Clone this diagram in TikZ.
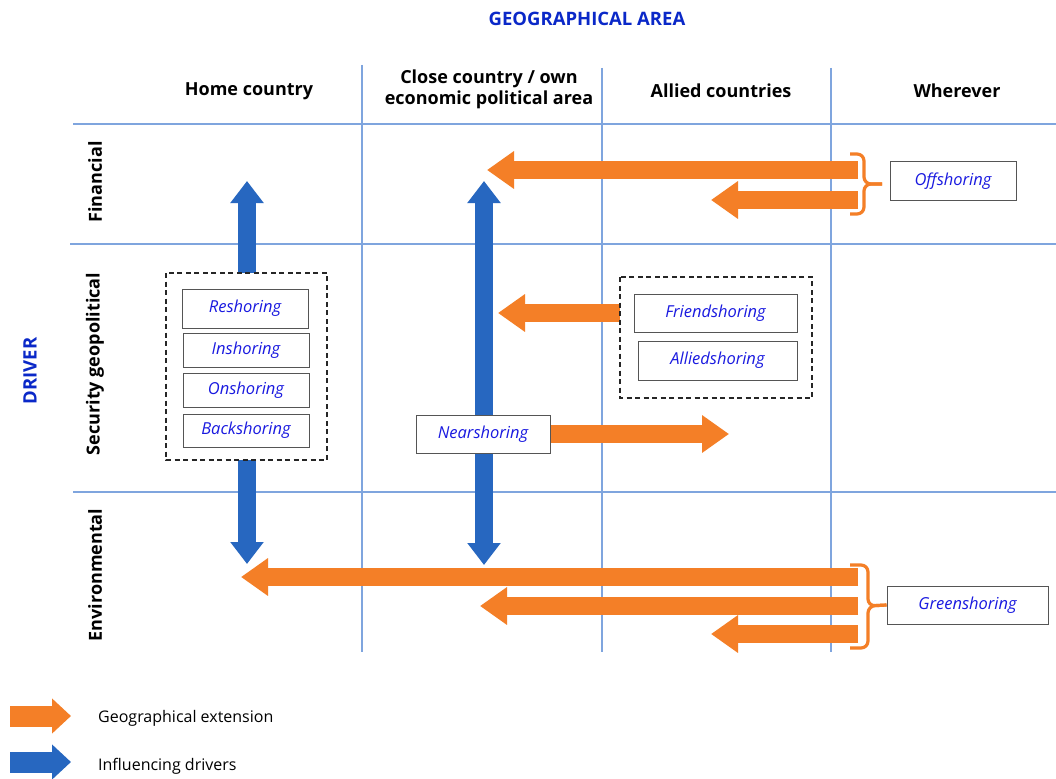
\documentclass[tikz,border=0pt]{standalone}
\usepackage{fontspec}
\setmainfont{Open Sans}
\usetikzlibrary{arrows.meta,backgrounds}
\definecolor{org}{HTML}{F47F27}
\definecolor{blu}{HTML}{2767C0}
\definecolor{gridc}{HTML}{7FA5DE}
\definecolor{lbl}{HTML}{1A1AE0}
\definecolor{ttl}{HTML}{0A28C8}
\definecolor{boxc}{HTML}{555555}
\begin{document}
\begin{tikzpicture}[x=1pt,y=-1pt,
  gridline/.style={draw=gridc,line width=1.2pt},
  colhead/.style={font=\fontsize{18}{21}\selectfont\bfseries,align=center,inner sep=0pt},
  rowhead/.style={font=\fontsize{18}{21}\selectfont\bfseries,rotate=90,inner sep=0pt},
  title/.style={font=\fontsize{18.5}{21}\selectfont\bfseries,text=ttl,inner sep=0pt},
  lab/.style={draw=boxc,line width=1pt,fill=white,font=\fontsize{16.5}{19}\selectfont\itshape,text=lbl,inner sep=0pt},
  dbox/.style={draw=black!85,line width=1.6pt,dash pattern=on 5pt off 3.5pt},
  oarrow/.style={draw=org,line width=18pt,-{Triangle[length=27pt,width=36pt]}},
  barrow/.style={draw=blu,line width=18pt,-{Triangle[length=22pt,width=32pt]}},
  bdarrow/.style={draw=blu,line width=18pt,{Triangle[length=22pt,width=32pt]}-{Triangle[length=22pt,width=32pt]}},
  obrace/.style={draw=org,line width=3.2pt,rounded corners=7pt},
  legtext/.style={font=\fontsize{16}{19}\selectfont,anchor=west,inner sep=0pt}
]
\useasboundingbox (0,0) rectangle (1056,778);

% titles
\node[title] (geo) at (587,19) {GEOGRAPHICAL AREA};
\node[title,rotate=90] (drv) at (30,371) {DRIVER};

% column heads
\node[colhead] (h1) at (249,91) {Home country};
\node[colhead] (h2) at (489,89) {Close country / own\\economic political area};
\node[colhead] (h3) at (721,91) {Allied countries};
\node[colhead] (h4) at (957,91) {Wherever};

% row heads
\node[rowhead] (r1) at (95,182) {Financial};
\node[rowhead] (r2) at (95,364) {Security geopolitical};
\node[rowhead] (r3) at (95,575) {Environmental};

% dashed groups
\draw[dbox] (166,273) rectangle (327,460);
\coordinate (homeTop) at (247,273);
\coordinate (homeBot) at (247,460);
\draw[dbox] (620,277) rectangle (812,398);
\coordinate (allyL) at (620,313);

% home labels
\node[lab,minimum width=126pt,minimum height=39pt] (resh) at (245,308.5) {Reshoring};
\node[lab,minimum width=126pt,minimum height=34pt] (insh) at (246,350) {Inshoring};
\node[lab,minimum width=126pt,minimum height=34pt] (onsh) at (246,390) {Onshoring};
\node[lab,minimum width=126pt,minimum height=33pt] (back) at (246,430.5) {Backshoring};

% allied labels
\node[lab,minimum width=163pt,minimum height=38pt] (friend) at (715.5,313) {Friendshoring};
\node[lab,minimum width=159pt,minimum height=39pt] (allied) at (717.5,360.5) {Alliedshoring};

% nearshoring
\node[lab,minimum width=134pt,minimum height=38pt] (near) at (483,434) {Nearshoring};

% offshoring / greenshoring
\node[lab,minimum width=126pt,minimum height=38pt] (off) at (953,181) {Offshoring};
\node[lab,minimum width=161pt,minimum height=38pt] (green) at (967.5,605) {Greenshoring};

% coordinates
\coordinate (homeUp) at (247,181);
\coordinate (homeDown) at (247,564);
\coordinate (closeUp) at (484,181);
\coordinate (closeDown) at (484,565);
\coordinate (f1s) at (858,170);
\coordinate (f1e) at (487,170);
\coordinate (f2s) at (858,200);
\coordinate (f2e) at (711,200);
\coordinate (sece) at (498,313);
\coordinate (neare) at (729,434);
\coordinate (e1s) at (858,577);
\coordinate (e1e) at (241,577);
\coordinate (e2s) at (858,606);
\coordinate (e2e) at (480,606);
\coordinate (e3s) at (858,634);
\coordinate (e3e) at (711,634);

\begin{pgfonlayer}{background}
\fill[white] (0,0) rectangle (1056,778);
% grid
\draw[gridline] (362,65) -- (362,652);
\draw[gridline] (602,68) -- (602,652);
\draw[gridline] (831,68) -- (831,652);
\draw[gridline,line width=2pt] (73,124) -- (1056,124);
\draw[gridline] (70,244) -- (1056,244);
\draw[gridline] (73,492) -- (1056,492);
% blue arrows
\draw[barrow] (homeTop) -- (homeUp);
\draw[barrow] (homeBot) -- (homeDown);
\draw[bdarrow] (closeDown) -- (closeUp);
% orange arrows
\draw[oarrow] (f1s) -- (f1e);
\draw[oarrow] (f2s) -- (f2e);
\draw[oarrow] (allyL) -- (sece);
\draw[oarrow] (near.east) -- (neare);
\draw[oarrow] (e1s) -- (e1e);
\draw[oarrow] (e2s) -- (e2e);
\draw[oarrow] (e3s) -- (e3e);
\end{pgfonlayer}

% braces
\coordinate (b1tip) at (882,184);
\draw[obrace] (850,154) -- (864,154) -- (864,184) -- (b1tip);
\draw[obrace] (850,214) -- (864,214) -- (864,184) -- (b1tip);
\draw[obrace] (850,565) -- (868,565) -- (868,606) -- (green.west);
\draw[obrace] (850,648) -- (868,648) -- (868,606) -- (green.west);

% legend
\coordinate (lo1) at (10,716);
\coordinate (lo2) at (71,716);
\draw[draw=org,line width=21pt,-{Triangle[length=19pt,width=34pt]}] (lo1) -- (lo2);
\node[legtext] (lgo) at (98,718) {Geographical extension};
\coordinate (lb1) at (10,762);
\coordinate (lb2) at (71,762);
\draw[draw=blu,line width=21pt,-{Triangle[length=19pt,width=34pt]}] (lb1) -- (lb2);
\node[legtext] (lgb) at (98,766) {Influencing drivers};
\end{tikzpicture}
\end{document}
